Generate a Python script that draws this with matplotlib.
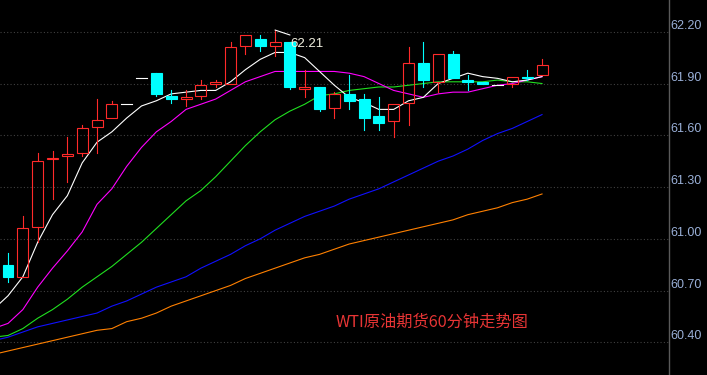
import matplotlib.pyplot as plt
import numpy as np
from matplotlib.patches import Rectangle

plt.rcParams['font.family'] = ['Noto Sans CJK SC', 'DejaVu Sans']

# 60分钟K线 (第1根到第37根)
opens = [60.85, 60.78, 61.07, 61.46, 61.48, 61.50, 61.65, 61.70, 61.78, 61.93,
         61.96, 61.83, 61.81, 61.83, 61.90, 61.90, 62.12, 62.16, 62.12, 62.14,
         61.87, 61.88, 61.76, 61.84, 61.81, 61.71, 61.68, 61.79, 62.02, 61.91,
         62.07, 61.92, 61.91, 61.89, 61.90, 61.94, 61.95]
closes = [60.78, 61.06, 61.45, 61.47, 61.49, 61.64, 61.69, 61.78, 61.78, 61.93,
          61.84, 61.81, 61.82, 61.89, 61.91, 62.11, 62.18, 62.12, 62.14, 61.88,
          61.88, 61.75, 61.84, 61.80, 61.70, 61.67, 61.78, 62.02, 61.92, 62.07,
          61.93, 61.91, 61.90, 61.89, 61.94, 61.93, 62.01]
highs = [60.92, 61.13, 61.50, 61.51, 61.59, 61.66, 61.81, 61.80, 61.78, 61.93,
         61.96, 61.86, 61.86, 61.92, 61.92, 62.14, 62.18, 62.18, 62.21, 62.14,
         61.98, 61.88, 61.85, 61.95, 61.84, 61.82, 61.78, 62.11, 62.14, 62.07,
         62.09, 61.95, 61.91, 61.89, 61.94, 61.98, 62.04]
lows = [60.75, 60.78, 60.98, 61.23, 61.33, 61.48, 61.50, 61.70, 61.78, 61.93,
        61.83, 61.79, 61.77, 61.81, 61.88, 61.90, 62.07, 62.09, 62.06, 61.87,
        61.82, 61.74, 61.70, 61.75, 61.63, 61.63, 61.59, 61.66, 61.88, 61.85,
        61.93, 61.86, 61.90, 61.89, 61.88, 61.92, 61.95]

# 均线 (第0根在画面左边外)
ma_white = [60.59, 60.67, 60.78, 60.98, 61.14, 61.25, 61.44, 61.56, 61.62, 61.70,
            61.77, 61.80, 61.84, 61.85, 61.86, 61.86, 61.91, 61.98, 62.04, 62.08,
            62.08, 62.05, 61.97, 61.89, 61.82, 61.79, 61.75, 61.75, 61.80, 61.82,
            61.90, 61.93, 61.96, 61.94, 61.93, 61.91, 61.92, 61.94]
ma_magenta = [60.48, 60.51, 60.59, 60.72, 60.83, 60.93, 61.04, 61.20, 61.29, 61.42,
              61.53, 61.62, 61.68, 61.75, 61.78, 61.81, 61.86, 61.91, 61.94, 61.97,
              61.97, 61.97, 61.97, 61.97, 61.96, 61.94, 61.90, 61.86, 61.84, 61.82,
              61.84, 61.85, 61.85, 61.87, 61.89, 61.90, 61.92, 61.94]
ma_green = [60.43, 60.44, 60.48, 60.54, 60.59, 60.65, 60.72, 60.78, 60.84, 60.91,
            60.98, 61.06, 61.14, 61.22, 61.28, 61.36, 61.45, 61.54, 61.62, 61.69,
            61.74, 61.78, 61.83, 61.84, 61.86, 61.87, 61.88, 61.88, 61.89, 61.90,
            61.91, 61.91, 61.91, 61.91, 61.92, 61.91, 61.91, 61.90]
ma_blue = [60.41, 60.43, 60.46, 60.49, 60.51, 60.53, 60.55, 60.57, 60.61, 60.64,
           60.68, 60.72, 60.75, 60.78, 60.83, 60.87, 60.91, 60.96, 61.00, 61.05,
           61.09, 61.13, 61.16, 61.19, 61.23, 61.26, 61.29, 61.33, 61.37, 61.41,
           61.45, 61.48, 61.52, 61.57, 61.61, 61.64, 61.68, 61.72]
ma_orange = [60.33, 60.35, 60.37, 60.39, 60.41, 60.43, 60.45, 60.47, 60.48, 60.52,
             60.54, 60.57, 60.61, 60.64, 60.67, 60.70, 60.73, 60.77, 60.80, 60.83,
             60.86, 60.89, 60.91, 60.94, 60.97, 60.99, 61.01, 61.03, 61.05, 61.07,
             61.09, 61.11, 61.14, 61.16, 61.18, 61.21, 61.23, 61.26]

price_ticks = [60.40, 60.70, 61.00, 61.30, 61.60, 61.90, 62.20]
title = 'WTI原油期货60分钟走势图'

UP = '#ff2a2a'
DOWN = '#00ffff'
W = 0.74
LW = 0.8

fig = plt.figure(figsize=(7.07, 3.75), dpi=100)
fig.patch.set_facecolor('black')
ax = fig.add_axes([0, 0, 669 / 707, 1])
ax.set_facecolor('black')

ma_x = np.arange(len(ma_white))
ax.plot(ma_x, ma_orange, color='#ff8000', lw=LW, zorder=2)
ax.plot(ma_x, ma_blue, color='#1010ff', lw=LW, zorder=2)
ax.plot(ma_x, ma_green, color='#20e020', lw=LW, zorder=2)
ax.plot(ma_x, ma_magenta, color='#ff00ff', lw=LW, zorder=2)
ax.plot(ma_x, ma_white, color='white', lw=LW, zorder=2)

for i in range(len(opens)):
    x = i + 1
    o, c, h, l = opens[i], closes[i], highs[i], lows[i]
    if c > o:
        ax.plot([x, x], [c, h], color=UP, lw=LW, zorder=3)
        ax.plot([x, x], [l, o], color=UP, lw=LW, zorder=3)
        ax.add_patch(Rectangle((x - W / 2, o), W, c - o, fill=False,
                               edgecolor=UP, lw=LW, zorder=3))
    elif c < o:
        ax.plot([x, x], [l, h], color=DOWN, lw=LW, zorder=3)
        ax.add_patch(Rectangle((x - W / 2, c), W, o - c, facecolor=DOWN,
                               edgecolor=DOWN, lw=LW, zorder=3))
    else:
        ax.plot([x, x], [l, h], color='white', lw=LW, zorder=3)
        ax.plot([x - W / 2, x + W / 2], [o, o], color='white', lw=LW, zorder=3)

# 最高价标记
imax = int(np.argmax(highs))
hmax = highs[imax]
ax.annotate('', xy=(imax + 1, hmax), xytext=(15, -5), textcoords='offset pixels',
            arrowprops=dict(arrowstyle='-', color='white', lw=LW,
                            shrinkA=0, shrinkB=0), zorder=4)
ax.annotate(f'{hmax:.2f}', xy=(imax + 1, hmax), xytext=(15, -14),
            textcoords='offset pixels', color='#f2f0e0', fontsize=9.5,
            family='Liberation Sans', va='center', ha='left', zorder=4)

ax.set_xlim(0.46, 45.56)
ax.set_ylim(60.211, 62.384)
ax.set_yticks(price_ticks)
ax.set_yticklabels([f'{v:.2f}' for v in price_ticks])
ax.yaxis.tick_right()
ax.tick_params(axis='y', length=0, pad=1, labelcolor='#9ab0d8', labelsize=9,
               labelfontfamily='Liberation Sans')
for lab in ax.get_yticklabels():
    lab.set_verticalalignment('bottom')
ax.set_xticks([])
ax.grid(axis='y', color='#404040', linestyle=(0, (1, 2)), lw=0.8)
for side in ['top', 'left', 'bottom']:
    ax.spines[side].set_visible(False)
ax.spines['right'].set_color('#5a5a5a')
ax.spines['right'].set_linewidth(1)

fig.text(336 / 707, 1 - 322.5 / 375, title, color='#e83535', fontsize=11.7,
         ha='left', va='center')

fig.savefig('out.png', dpi=100, facecolor='black')
